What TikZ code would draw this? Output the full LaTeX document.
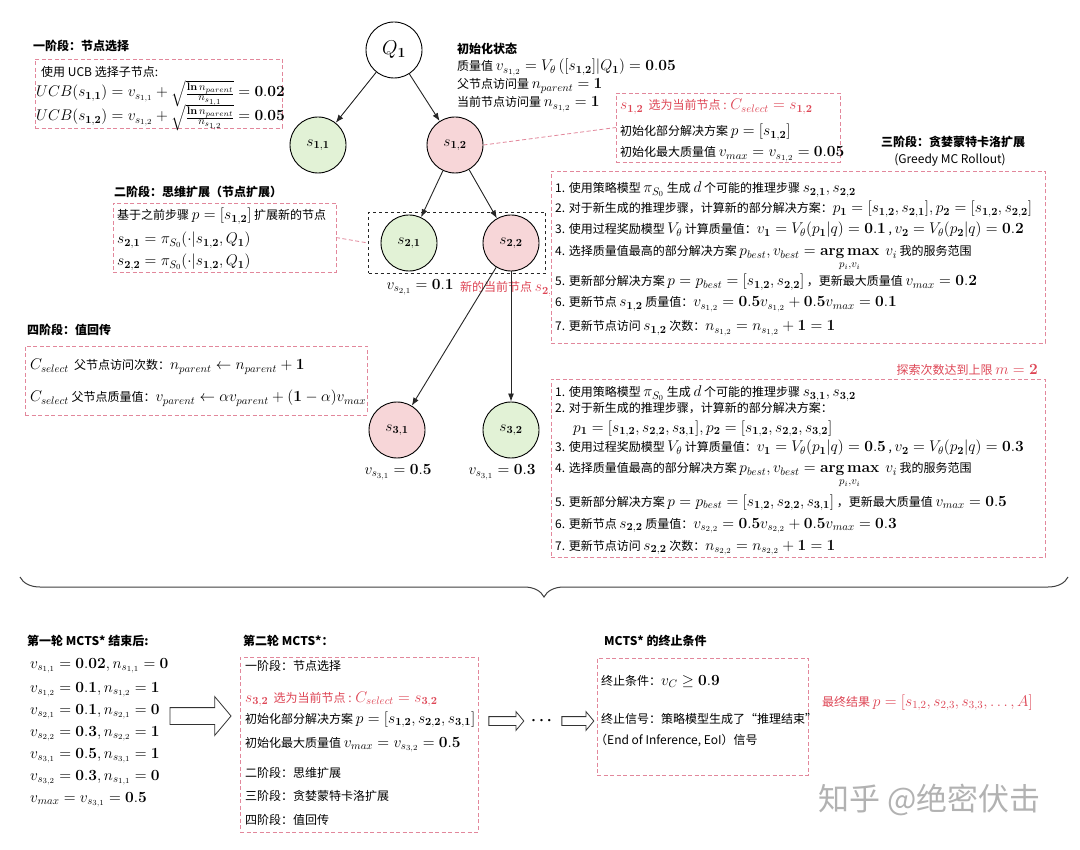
\RequirePackage{fix-cm}
\documentclass[tikz,border=0pt]{standalone}
\usepackage{amsmath}
\usepackage[no-math]{fontspec}
\setmainfont{Noto Sans CJK SC}
\usetikzlibrary{arrows.meta,shapes.arrows,decorations.pathreplacing}
\definecolor{pinkline}{RGB}{226,135,155}
\definecolor{redtxt}{RGB}{222,70,85}
\definecolor{gfill}{RGB}{226,242,214}
\definecolor{pfill}{RGB}{247,214,216}
\newcommand{\fs}{\fontsize{12}{14}\selectfont}
\newcommand{\mfs}{\fontsize{15.5}{18}\selectfont}
\newcommand{\mm}[1]{{\mfs$#1$}}
\newcommand{\myS}[1]{s_{\mathbf{#1}}}
\newcommand{\myV}[1]{v_{s_{#1}}}
\newcommand{\myN}[1]{n_{s_{#1}}}
\newcommand{\ucbfrac}[1]{\sqrt{\genfrac{}{}{}{2}{\scriptstyle \mathbf{ln}\, n_{parent}}{\scriptstyle n_{s_{#1}}}}}
\begin{document}
\begin{tikzpicture}[x=1pt,y=-1pt,
  t/.style={anchor=base west, inner sep=0pt, font=\fs},
  tc/.style={anchor=center, inner sep=0pt, font=\fs},
  hd/.style={anchor=base west, inner sep=0pt, font=\fs\bfseries},
  pbox/.style={draw=pinkline, dashed, dash pattern=on 4pt off 2.5pt, line width=0.8pt, anchor=north west, inner sep=0pt, outer sep=0pt},
  circ/.style={circle, draw=black, line width=0.9pt, minimum size=56pt, inner sep=0pt, font=\mfs},
  gnode/.style={circ, fill=gfill},
  pnode/.style={circ, fill=pfill},
  edge/.style={draw=black!85, line width=0.9pt, -{Latex[length=8pt,width=6pt]}},
  pcon/.style={draw=pinkline, dashed, dash pattern=on 4pt off 2.5pt, line width=0.8pt},
  harrow/.style={single arrow, draw=black!80, line width=0.8pt, fill=white, inner xsep=0pt, single arrow tip angle=100}
]
\useasboundingbox (0,0) rectangle (1080,850);
\fill[white] (0,0) rectangle (1080,850);

% ---------- Stage 1 ----------
\node[hd] (h1) at (33,51) {一阶段：节点选择};
\node[pbox, minimum width=247pt, minimum height=69pt] (b1) at (35,59) {};
\node[t] (b1a) at (41,77) {使用 UCB 选择子节点:};
\node[t] (b1b) at (36,97) {\mm{UCB(\myS{1,1}) = \myV{1,1} + \ucbfrac{1,1} = \mathbf{0.02}}};
\node[t] (b1c) at (36,121) {\mm{UCB(\myS{1,2}) = \myV{1,2} + \ucbfrac{1,2} = \mathbf{0.05}}};

% ---------- tree ----------
\node[circ, font=\fontsize{20}{20}\selectfont] (q1) at (394,50) {$Q_{\mathbf 1}$};
\node[gnode] (s11) at (318,145) {$\myS{1,1}$};
\node[pnode] (s12) at (455,145) {$\myS{1,2}$};

\node[hd] (init1) at (457,54) {初始化状态};
\node[t] (init2) at (457,71) {质量值 \mm{\myV{1,2} = V_\theta\left([\myS{1,2}]|Q_{\mathbf 1}\right) = \mathbf{0.05}}};
\node[t] (init3) at (457,89) {父节点访问量 \mm{n_{parent} = \mathbf 1}};
\node[t] (init4) at (457,107) {当前节点访问量 \mm{\myN{1,2} = \mathbf 1}};

\node[pbox, minimum width=224pt, minimum height=69pt] (selbox) at (616,93) {};
\node[t, text=redtxt] (sel1) at (620,110) {\mm{\myS{1,2}}\ \ 选为当前节点 : \mm{C_{select} = \myS{1,2}}};
\node[t] (sel2) at (620,136) {初始化部分解决方案 \mm{p = [\myS{1,2}]}};
\node[t] (sel3) at (620,157) {初始化最大质量值 \mm{v_{max} = \myV{1,2} = \mathbf{0.05}}};

% ---------- Stage 3 (first) ----------
\node[tc, font=\fs\bfseries] (h3) at (953,142) {三阶段：贪婪蒙特卡洛扩展};
\node[tc] (h3b) at (950,160) {(Greedy MC Rollout)};
\node[pbox, minimum width=494pt, minimum height=172pt] (b3) at (551,171) {};
\node[t] (b3a) at (555,193) {1. 使用策略模型 \mm{\pi_{S_0}} 生成 \mm{d} 个可能的推理步骤 \mm{\myS{2,1}, \myS{2,2}}};
\node[t] (b3b) at (555,213) {2. 对于新生成的推理步骤，计算新的部分解决方案：\mm{p_{\mathbf 1} = [\myS{1,2}, \myS{2,1}], p_{\mathbf 2} = [\myS{1,2}, \myS{2,2}]}};
\node[t] (b3c) at (555,234) {3. 使用过程奖励模型 \mm{V_\theta} 计算质量值：\mm{v_{\mathbf 1} = V_\theta(p_{\mathbf 1}|q) = \mathbf{0.1}} , \mm{v_{\mathbf 2} = V_\theta(p_{\mathbf 2}|q) = \mathbf{0.2}}};
\node[t] (b3d) at (555,256) {4. 选择质量值最高的部分解决方案 \mm{p_{best}, v_{best} = \mathop{\mathbf{arg\,max}}\limits_{p_i,v_i}\ v_i} 我的服务范围};
\node[t] (b3e) at (555,286) {5. 更新部分解决方案 \mm{p = p_{best} = [\myS{1,2}, \myS{2,2}]} ，更新最大质量值 \mm{v_{max} = \mathbf{0.2}}};
\node[t] (b3f) at (555,307) {6. 更新节点 \mm{\myS{1,2}} 质量值：\mm{\myV{1,2} = \mathbf{0.5}\myV{1,2} + \mathbf{0.5}v_{max} = \mathbf{0.1}}};
\node[t] (b3g) at (555,331) {7. 更新节点访问 \mm{\myS{1,2}} 次数：\mm{\myN{1,2} = \myN{1,2} + \mathbf 1 = \mathbf 1}};

% ---------- Stage 2 ----------
\node[hd] (h2) at (114,197) {二阶段：思维扩展（节点扩展）};
\node[pbox, minimum width=223pt, minimum height=69pt] (b2) at (113,203) {};
\node[t] (b2a) at (117,220) {基于之前步骤 \mm{p = [\myS{1,2}]} 扩展新的节点};
\node[t] (b2b) at (117,244) {\mm{\myS{2,1} = \pi_{S_0}(\cdot|\myS{1,2}, Q_{\mathbf 1})}};
\node[t] (b2c) at (117,266) {\mm{\myS{2,2} = \pi_{S_0}(\cdot|\myS{1,2}, Q_{\mathbf 1})}};

\node[draw=black!85, dashed, line width=1pt, anchor=north west, minimum width=177pt, minimum height=61pt, inner sep=0pt] (bb) at (368,212) {};
\node[gnode] (s21) at (409,243) {$\myS{2,1}$};
\node[pnode] (s22) at (511,243) {$\myS{2,2}$};
\node[tc, font=\mfs] (v21) at (420,287) {$\myV{2,1} = \mathbf{0.1}$};
\begin{scope}
\clip (440,270) rectangle (549,305);
\node[t, text=redtxt] (newcur) at (460,292) {新的当前节点 \mm{\myS{2,2}}};
\end{scope}

% ---------- Stage 4 ----------
\node[hd] (h4) at (27,335) {四阶段：值回传};
\node[pbox, minimum width=342pt, minimum height=69pt] (b4) at (25,346) {};
\node[t] (b4a) at (30,370) {\mm{C_{select}}\ \ 父节点访问次数：\mm{n_{parent} \leftarrow n_{parent} + \mathbf 1}};
\node[t] (b4b) at (30,402) {\mm{C_{select}} 父节点质量值：\mm{v_{parent} \leftarrow \alpha v_{parent} + (\mathbf 1 - \alpha) v_{max}}};

\node[pnode] (s31) at (397,430) {$\myS{3,1}$};
\node[gnode] (s32) at (511,430) {$\myS{3,2}$};
\node[tc, font=\mfs] (v31) at (398,472) {$\myV{3,1} = \mathbf{0.5}$};
\node[tc, font=\mfs] (v32) at (502,472) {$\myV{3,1} = \mathbf{0.3}$};

% ---------- Stage 3 (second) ----------
\node[anchor=base east, inner sep=0pt, font=\fs, text=redtxt] (lim) at (1038,375) {探索次数达到上限 \mm{m = \mathbf 2}};
\node[pbox, minimum width=494pt, minimum height=178pt] (b5) at (551,379) {};
\node[t] (b5a) at (555,397) {1. 使用策略模型 \mm{\pi_{S_0}} 生成 \mm{d} 个可能的推理步骤 \mm{\myS{3,1}, \myS{3,2}}};
\node[t] (b5b) at (555,413) {2. 对于新生成的推理步骤，计算新的部分解决方案：};
\node[t] (b5c) at (573,432) {\mm{p_{\mathbf 1} = [\myS{1,2}, \myS{2,2}, \myS{3,1}], p_{\mathbf 2} = [\myS{1,2}, \myS{2,2}, \myS{3,2}]}};
\node[t] (b5d) at (555,452) {3. 使用过程奖励模型 \mm{V_\theta} 计算质量值：\mm{v_{\mathbf 1} = V_\theta(p_{\mathbf 1}|q) = \mathbf{0.5}} , \mm{v_{\mathbf 2} = V_\theta(p_{\mathbf 2}|q) = \mathbf{0.3}}};
\node[t] (b5e) at (555,473) {4. 选择质量值最高的部分解决方案 \mm{p_{best}, v_{best} = \mathop{\mathbf{arg\,max}}\limits_{p_i,v_i}\ v_i} 我的服务范围};
\node[t] (b5f) at (555,506) {5. 更新部分解决方案 \mm{p = p_{best} = [\myS{1,2}, \myS{2,2}, \myS{3,1}]} ，更新最大质量值 \mm{v_{max} = \mathbf{0.5}}};
\node[t] (b5g) at (555,528) {6. 更新节点 \mm{\myS{2,2}} 质量值：\mm{\myV{2,2} = \mathbf{0.5}\myV{2,2} + \mathbf{0.5}v_{max} = \mathbf{0.3}}};
\node[t] (b5h) at (555,550) {7. 更新节点访问 \mm{\myS{2,2}} 次数：\mm{\myN{2,2} = \myN{2,2} + \mathbf 1 = \mathbf 1}};

% ---------- tree edges ----------
\draw[edge] (q1) -- (s11);
\draw[edge] (q1) -- (s12);
\draw[edge] (s12) -- (s21);
\draw[edge] (s12) -- (s22);
\draw[edge] (s22) -- (s31);
\draw[edge] (s22) -- (s32);
\draw[pcon] (s12.east) -- (selbox.west);
\draw[pcon] (b2.east) -- (bb.west);

% ---------- brace ----------
\coordinate (brl) at (20,577);
\coordinate (brr) at (1068,577);
\draw[decorate, decoration={brace, amplitude=20pt, mirror}, line width=1pt, draw=black!75] (brl) -- (brr);

% ---------- bottom: round 1 ----------
\node[hd] (r1h) at (27,645) {第一轮 MCTS* 结束后:};
\node[t] (r1a) at (30,668) {\mm{\myV{1,1} = \mathbf{0.02}, \myN{1,1} = \mathbf 0}};
\node[t] (r1b) at (30,692) {\mm{\myV{1,2} = \mathbf{0.1}, \myN{1,2} = \mathbf 1}};
\node[t] (r1c) at (30,714) {\mm{\myV{2,1} = \mathbf{0.1}, \myN{2,1} = \mathbf 0}};
\node[t] (r1d) at (30,736) {\mm{\myV{2,2} = \mathbf{0.3}, \myN{2,2} = \mathbf 1}};
\node[t] (r1e) at (30,758) {\mm{\myV{3,1} = \mathbf{0.5}, \myN{3,1} = \mathbf 1}};
\node[t] (r1f) at (30,780) {\mm{\myV{3,2} = \mathbf{0.3}, \myN{1,1} = \mathbf 0}};
\node[t] (r1g) at (30,802) {\mm{v_{max} = \myV{3,1} = \mathbf{0.5}}};

\node[harrow, minimum height=61pt, inner ysep=8pt, single arrow head extend=11pt] (ha1) at (197,716) {};

% ---------- bottom: round 2 ----------
\node[hd] (r2h) at (243,645) {第二轮 MCTS*：};
\node[pbox, minimum width=238pt, minimum height=175pt] (b6) at (240,657) {};
\node[t] (b6a) at (245,670) {一阶段：节点选择};
\node[t, text=redtxt] (b6b) at (245,702) {\mm{\myS{3,2}}\ \ 选为当前节点 : \mm{C_{select} = \myS{3,2}}};
\node[t] (b6c) at (245,723) {初始化部分解决方案 \mm{p = [\myS{1,2}, \myS{2,2}, \myS{3,1}]}};
\node[t] (b6d) at (245,747) {初始化最大质量值 \mm{v_{max} = \myV{3,2} = \mathbf{0.5}}};
\node[t] (b6e) at (245,777) {二阶段：思维扩展};
\node[t] (b6f) at (245,800) {三阶段：贪婪蒙特卡洛扩展};
\node[t] (b6g) at (245,824) {四阶段：值回传};

\node[harrow, minimum height=35pt, inner ysep=4pt, single arrow head extend=5pt] (ha2) at (504.5,721) {};
\node[tc, font=\mfs] (dots) at (543,721) {$\boldsymbol{\cdots}$};
\node[harrow, minimum height=32pt, inner ysep=4pt, single arrow head extend=5pt] (ha3) at (576,721) {};

% ---------- termination ----------
\node[hd] (r3h) at (604,645) {MCTS* 的终止条件};
\node[pbox, minimum width=211pt, minimum height=117pt] (b7) at (597,658) {};
\node[t] (b7a) at (601,685) {终止条件：\mm{v_C \geq \mathbf{0.9}}};
\node[t] (b7b) at (601,723) {终止信号：策略模型生成了“推理结束”};
\node[t] (b7c) at (595,744) {（End of Inference, EoI）信号};
\node[t, text=redtxt] (res) at (822,706) {最终结果 \mm{p = [s_{1,2}, s_{2,3}, s_{3,3}, \dots, A]}};

\node[anchor=west, inner sep=0pt, font=\fontsize{31}{31}\selectfont, text=black!30] (wm) at (818,800) {知乎 @绝密伏击};
\end{tikzpicture}
\end{document}
